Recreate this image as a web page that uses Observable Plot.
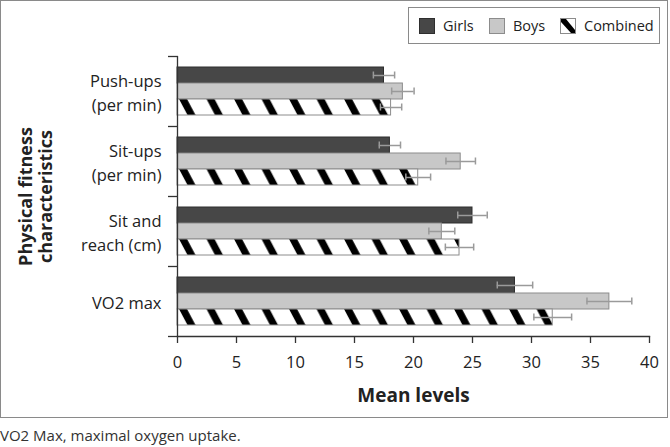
<!DOCTYPE html>
<html>
<head>
<meta charset="utf-8">
<script src="https://cdn.jsdelivr.net/npm/d3@7"></script>
<script src="https://cdn.jsdelivr.net/npm/@observablehq/plot@0.6"></script>
<style>
  body { margin: 0; background: white; font-family: "Open Sans", sans-serif; color: #222; }
  #frame { position: relative; width: 666px; height: 416px; border: 1px solid #8a8a8a; }
  #frame svg { display: block; }
  #legend { position: absolute; left: 407px; top: 6px; width: 252px; height: 37px; box-sizing: border-box;
            border: 1px solid #8a8a8a; background: white; font-size: 14.5px; }
  .item { position: absolute; top: 0; height: 35px; display: flex; align-items: center; }
  .item svg { margin-right: 8px; }
  #caption { font-size: 15px; color: #333; margin-top: 7px; line-height: 20px; }
</style>
</head>
<body>
<div id="frame">
  <div id="chart"></div>
  <div id="legend"></div>
</div>
<div id="caption">VO2 Max, maximal oxygen uptake.</div>
<script>
const categories = ["Push-ups\n(per min)", "Sit-ups\n(per min)", "Sit and\nreach (cm)", "VO2 max"];
const series = ["Girls", "Boys", "Combined"];
const girls = [17.5, 18.0, 25.0, 28.6];
const girlsErr = [0.9, 0.9, 1.25, 1.5];
const boys = [19.1, 24.0, 22.4, 36.6];
const boysErr = [0.95, 1.25, 1.1, 1.9];
const combined = [18.1, 20.4, 23.9, 31.8];
const combinedErr = [0.9, 1.05, 1.2, 1.6];
const xTicks = [0, 5, 10, 15, 20, 25, 30, 35, 40];

const values = {Girls: girls, Boys: boys, Combined: combined};
const errors = {Girls: girlsErr, Boys: boysErr, Combined: combinedErr};
const fills = {Girls: "#474747", Boys: "#c8c8c8", Combined: "url(#stripes)"};
const strokes = {Girls: "#2e2e2e", Boys: "#8c8c8c", Combined: "#8c8c8c"};

const band = 70, barH = 16, groupTop = 11, capH = 7;

function rows(s) {
  return categories.map((cat, i) => ({cat, v: values[s][i], lo: values[s][i] - errors[s][i], hi: values[s][i] + errors[s][i]}));
}

const defsMark = () => {
  const defs = d3.create("svg:defs");
  const p = defs.append("pattern").attr("id", "stripes").attr("patternUnits", "userSpaceOnUse")
    .attr("x", 178).attr("y", 55 + groupTop + 2 * barH).attr("width", 27.5).attr("height", band);
  p.append("rect").attr("width", 27.5).attr("height", band).attr("fill", "white");
  p.append("polygon").attr("points", "0,0 8,0 16.5,16 8.5,16").attr("fill", "black");
  return defs.node();
};

const marks = [defsMark];
series.forEach((s, k) => {
  const top = groupTop + k * barH;
  marks.push(Plot.barX(rows(s), {y: "cat", x: "v", fill: fills[s], stroke: strokes[s], strokeWidth: 1,
    insetTop: top, insetBottom: band - top - barH}));
});
series.forEach((s, k) => {
  const c = groupTop + k * barH + barH / 2;
  const r = rows(s);
  const st = {stroke: "#9a9a9a", strokeWidth: 1.5};
  marks.push(Plot.ruleY(r, {y: "cat", x1: "lo", x2: "hi", dy: c - band / 2, ...st}));
  marks.push(Plot.tickX(r, {y: "cat", x: "lo", insetTop: c - capH / 2, insetBottom: band - c - capH / 2, ...st}));
  marks.push(Plot.tickX(r, {y: "cat", x: "hi", insetTop: c - capH / 2, insetBottom: band - c - capH / 2, ...st}));
});

const axisStyle = {stroke: "#333", strokeWidth: 1.3};
marks.push(
  Plot.ruleX([0], axisStyle),
  Plot.frame({anchor: "bottom", ...axisStyle}),
  Plot.tickY(categories, {y: d => d, dy: -band / 2, insetLeft: -9, insetRight: 471, ...axisStyle}),
  Plot.tickY([categories[categories.length - 1]], {y: d => d, dy: band / 2, insetLeft: -9, insetRight: 471, ...axisStyle}),
  Plot.axisX({ticks: xTicks, tickSize: 7, tickPadding: 13, label: null, fontSize: 16.5, ...axisStyle, fill: "#222"}),
  Plot.axisY({tickSize: 0, tickPadding: 16, label: null, fontSize: 16.5, lineHeight: 1.45, fill: "#222"}),
  Plot.text(["Physical fitness\ncharacteristics"], {text: d => d, frameAnchor: "left", rotate: -90, dx: -142,
    textAnchor: "middle", lineAnchor: "middle", fontWeight: "bold", fontSize: 18, lineHeight: 1.15, fill: "#222"}),
  Plot.text(["Mean levels"], {text: d => d, frameAnchor: "bottom", dy: 59, textAnchor: "middle",
    lineAnchor: "middle", fontWeight: "bold", fontSize: 19, fill: "#222"})
);

const chart = Plot.plot({
  width: 666, height: 416,
  marginLeft: 176, marginRight: 18, marginTop: 55, marginBottom: 81,
  style: {fontFamily: "'Open Sans', sans-serif", fontSize: "16px", color: "#222", background: "white"},
  x: {domain: [0, 40]},
  y: {domain: categories, padding: 0, axis: null},
  marks
});
document.getElementById("chart").appendChild(chart);

// legend
const legend = document.getElementById("legend");
const lefts = {Girls: 10, Boys: 80, Combined: 151};
series.forEach(s => {
  const item = document.createElement("div");
  item.className = "item";
  item.style.left = lefts[s] + "px";
  let sw;
  if (s === "Combined") {
    sw = `<svg width="16" height="16"><rect x="0.5" y="0.5" width="15" height="15" fill="white" stroke="#8c8c8c"/>` +
         `<polygon points="1,1 6,1 15,12 15,15 11,15 1,4" fill="black"/></svg>`;
  } else {
    sw = `<svg width="16" height="16"><rect x="0.5" y="0.5" width="15" height="15" fill="${fills[s]}" stroke="${strokes[s]}"/></svg>`;
  }
  item.innerHTML = sw + `<span>${s}</span>`;
  legend.appendChild(item);
});
</script>
</body>
</html>
